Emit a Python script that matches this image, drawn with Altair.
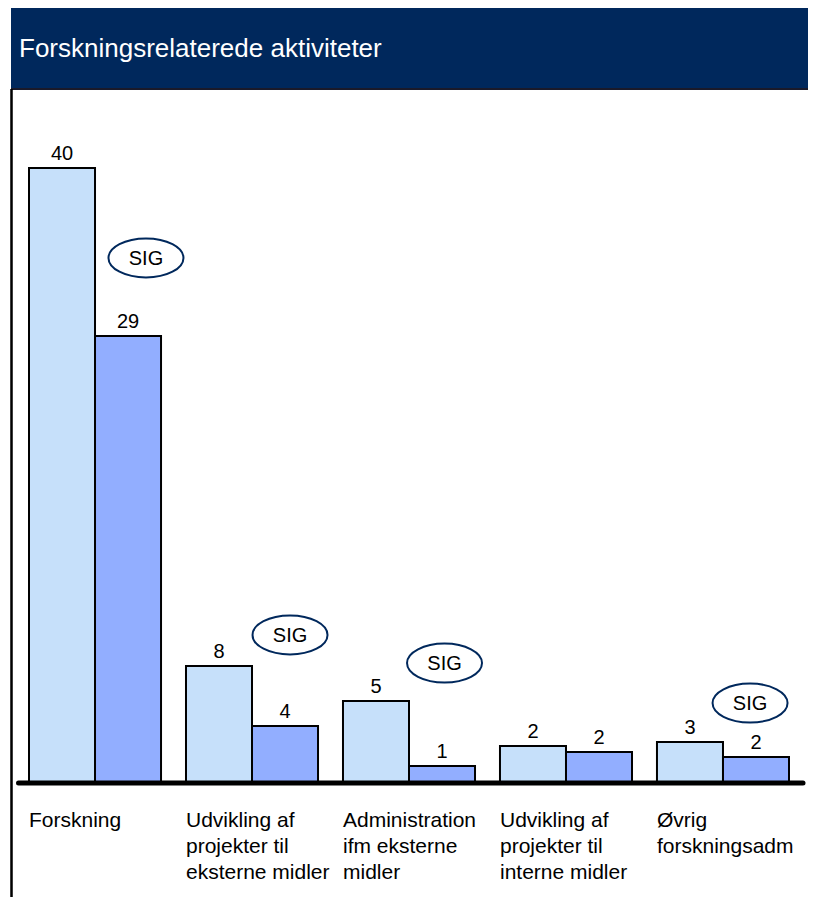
import altair as alt
import pandas as pd

# ---- data ----
categories = [
    "Forskning",
    "Udvikling af projekter til eksterne midler",
    "Administration ifm eksterne midler",
    "Udvikling af projekter til interne midler",
    "Øvrig forskningsadm",
]
category_labels = [
    "Forskning",
    "Udvikling af\nprojekter til\neksterne midler",
    "Administration\nifm eksterne\nmidler",
    "Udvikling af\nprojekter til\ninterne midler",
    "Øvrig\nforskningsadm",
]
series_names = ["Serie 1", "Serie 2"]
series1 = [40.0, 7.61, 5.33, 2.41, 2.67]
series2 = [29.07, 3.71, 1.11, 2.02, 1.69]

# significance annotations: category, place within the group band, level (value units)
sig_cats = [categories[0], categories[1], categories[2], categories[4]]
sig_text = ["SIG", "SIG", "SIG", "SIG"]
sig_band = [0.886, 0.788, 0.769, 0.705]
sig_level = [34.15, 9.63, 7.80, 5.20]

title_text = "Forskningsrelaterede aktiviteter"

FONT = "Liberation Sans"
NAVY = "#00285C"
LIGHT = "#C6E0FA"
DARK = "#92AEFF"

W, H = 800, 889

rows = []
for c, v1, v2 in zip(categories, series1, series2):
    rows.append({"cat": c, "series": series_names[0], "value": v1})
    rows.append({"cat": c, "series": series_names[1], "value": v2})
bars_df = pd.DataFrame(rows)
labels_df = pd.DataFrame({"cat": categories, "label": category_labels})

xscale = alt.Scale(domain=categories, range=[21, 781], paddingInner=0.159, paddingOuter=0)
yscale = alt.Scale(domain=[0, 40], range=[775, 160], nice=False, zero=True)
cscale = alt.Scale(domain=series_names, range=[LIGHT, DARK])

X = alt.X("cat:N", scale=xscale, axis=None, sort=categories)
Y = alt.Y("value:Q", scale=yscale, axis=None)

bars = alt.Chart(bars_df).mark_bar(stroke="black", strokeWidth=2).encode(
    x=X,
    xOffset=alt.XOffset("series:N", sort=series_names),
    y=Y,
    color=alt.Color("series:N", scale=cscale, legend=None),
)

values = alt.Chart(bars_df).mark_text(
    font=FONT, fontSize=20, color="black", dy=-8, baseline="alphabetic", align="center"
).encode(
    x=X,
    xOffset=alt.XOffset("series:N", sort=series_names),
    y=Y,
    text=alt.Text("value:Q", format=".0f"),
)

baseline = alt.Chart(pd.DataFrame({"value": [0]})).mark_rule(
    color="black", strokeWidth=5, strokeCap="round"
).encode(
    y=Y,
    x=alt.value(10.5),
    x2=alt.value(795),
)

cat_text = alt.Chart(labels_df).mark_text(
    font=FONT, fontSize=21, color="black", align="left", baseline="alphabetic",
    lineBreak="\n", lineHeight=26,
).encode(
    x=alt.X("cat:N", scale=xscale, axis=None, sort=categories, bandPosition=0),
    y=alt.value(818.7),
    text="label:N",
)

ellipse_path = (
    "M -1 0 C -1 -0.287 -0.552 -0.52 0 -0.52 C 0.552 -0.52 1 -0.287 1 0 "
    "C 1 0.287 0.552 0.52 0 0.52 C -0.552 0.52 -1 0.287 -1 0 Z"
)

sig_layers = []
for c, t, bp, lv in zip(sig_cats, sig_text, sig_band, sig_level):
    d = pd.DataFrame({"cat": [c], "value": [lv], "text": [t]})
    SX = alt.X("cat:N", scale=xscale, axis=None, sort=categories, bandPosition=bp)
    sig_layers.append(
        alt.Chart(d).mark_point(
            shape=ellipse_path, size=75 * 75, filled=True, fill="white",
            stroke=NAVY, strokeWidth=2, opacity=1,
        ).encode(x=SX, y=Y)
    )
    sig_layers.append(
        alt.Chart(d).mark_text(
            font=FONT, fontSize=20, color="black", baseline="alphabetic", align="center", dy=7
        ).encode(x=SX, y=Y, text="text:N")
    )

band = alt.Chart(labels_df).mark_rect(color=NAVY).encode(
    x=alt.value(3), x2=alt.value(W), y=alt.value(0), y2=alt.value(81)
)
band_line = alt.Chart(labels_df).mark_rule(color="#1a1a2a", strokeWidth=2).encode(
    x=alt.value(3), x2=alt.value(W), y=alt.value(81)
)
left_line = alt.Chart(labels_df).mark_rule(color="black", strokeWidth=1.5).encode(
    x=alt.value(3.5), y=alt.value(81), y2=alt.value(H)
)
title = alt.Chart(pd.DataFrame({"t": [title_text]})).mark_text(
    font=FONT, fontSize=26, color="white", align="left", baseline="alphabetic"
).encode(x=alt.value(11), y=alt.value(49), text="t:N")

chart = alt.layer(
    band, band_line, left_line, title,
    bars, baseline, values, cat_text,
    *sig_layers,
).properties(
    width=W, height=H, autosize=alt.AutoSizeParams(type="none"), padding=0,
    background="white",
).configure_view(stroke=None)

chart.save("out.html", embed_options={"renderer": "svg", "actions": False})
